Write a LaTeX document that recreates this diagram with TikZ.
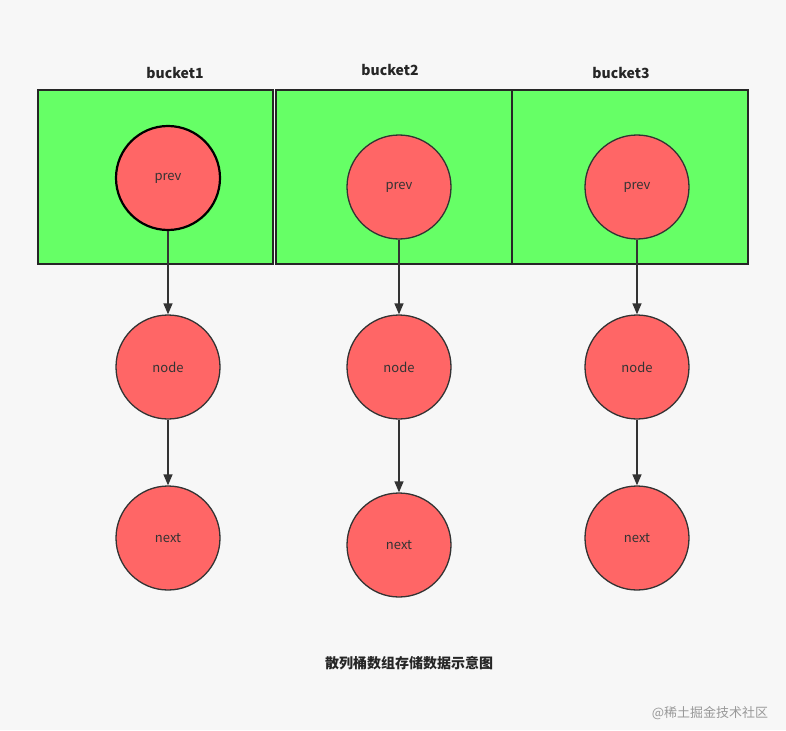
\documentclass[tikz,border=0pt]{standalone}
\usepackage{fontspec}
\setmainfont{Noto Sans CJK SC}
\usetikzlibrary{arrows.meta}
\begin{document}
\begin{tikzpicture}[x=1pt,y=-1pt,
  bucketbox/.style={draw=black!85,line width=1.5pt,fill=green!60!lime!90!white},
  ball/.style={circle,draw=black!80,line width=1.3pt,fill=red!60!white,minimum size=104pt,inner sep=0pt,font=\fontsize{13}{15}\selectfont,text=black!80},
  link/.style={draw=black!80,line width=1.3pt,-{Triangle[length=11pt,width=9pt]}},
  title/.style={font=\bfseries\fontsize{14}{16}\selectfont,text=black!85}]
\useasboundingbox[fill=white!97!black] (0,0) rectangle (786,730);
\definecolor{bg}{HTML}{66FF66}\definecolor{rd}{HTML}{FF6666}
\tikzset{bucketbox/.append style={fill=bg},ball/.append style={fill=rd}}
\node[bucketbox,minimum width=235pt,minimum height=174pt,inner sep=0pt] (b1) at (155.5,177) {};
\node[bucketbox,minimum width=236pt,minimum height=174pt,inner sep=0pt] (b2) at (394,177) {};
\node[bucketbox,minimum width=236pt,minimum height=174pt,inner sep=0pt] (b3) at (630,177) {};
\node[title] (t1) at (175,73) {bucket1};
\node[title] (t2) at (390,70) {bucket2};
\node[title] (t3) at (621,73) {bucket3};
\node[ball,line width=2.2pt,draw=black] (p1) at (168,178) {prev};
\node[ball] (p2) at (399,187) {prev};
\node[ball] (p3) at (637,187) {prev};
\node[ball] (n1) at (168,367) {node};
\node[ball] (n2) at (399,367) {node};
\node[ball] (n3) at (637,367) {node};
\node[ball] (x1) at (168,538) {next};
\node[ball] (x2) at (399,545) {next};
\node[ball] (x3) at (637,538) {next};
\foreach \i in {1,2,3}{
  \draw[link] (p\i) -- (n\i);
  \draw[link] (n\i) -- (x\i);
}
\node[font=\bfseries\fontsize{14}{16}\selectfont,text=black!85] (cap) at (409,663) {散列桶数组存储数据示意图};
\node[font=\fontsize{13}{15}\selectfont,text=black!40] (wm) at (710,713) {@稀土掘金技术社区};
\end{tikzpicture}
\end{document}
